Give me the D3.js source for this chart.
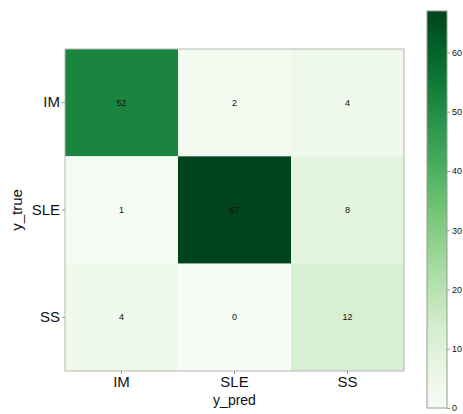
<!DOCTYPE html>
<html>
<head>
<meta charset="utf-8">
<script src="https://cdn.jsdelivr.net/npm/d3@7"></script>
<style>
  body { margin: 0; background: #fff; }
  svg { display: block; font-family: "Liberation Sans", Arial, sans-serif; }
</style>
</head>
<body>
<svg id="chart" width="463" height="414"></svg>
<script>
// Confusion matrix: rows = true class, columns = predicted class
const classes = ["IM", "SLE", "SS"];
const matrix = [
  [52, 2, 4],
  [1, 67, 8],
  [4, 0, 12]
];
const colorbarTicks = [0, 10, 20, 30, 40, 50, 60];
const colorMax = 67;

const svg = d3.select("#chart");
const plot = { left: 65, top: 49, width: 339, height: 322 };

const x = d3.scaleBand().domain(classes).range([plot.left, plot.left + plot.width]);
const y = d3.scaleBand().domain(classes).range([plot.top, plot.top + plot.height]);
const color = d3.scaleSequential(d3.interpolateGreens).domain([0, colorMax]);

const cells = [];
matrix.forEach((row, i) => row.forEach((v, j) => cells.push({ t: classes[i], p: classes[j], v })));

svg.append("g").selectAll("rect").data(cells).join("rect")
  .attr("x", d => x(d.p)).attr("y", d => y(d.t))
  .attr("width", x.bandwidth()).attr("height", y.bandwidth())
  .attr("fill", d => color(d.v));

svg.append("g").selectAll("text").data(cells).join("text")
  .attr("x", d => x(d.p) + x.bandwidth() / 2)
  .attr("y", d => y(d.t) + y.bandwidth() / 2)
  .attr("text-anchor", "middle").attr("dominant-baseline", "central")
  .attr("font-size", 9).attr("fill", "#111")
  .text(d => d.v);

// frame around the heatmap
svg.append("rect")
  .attr("x", plot.left).attr("y", plot.top)
  .attr("width", plot.width).attr("height", plot.height)
  .attr("fill", "none").attr("stroke", "#b5b5b5").attr("stroke-width", 1);

// axes
const xAxis = svg.append("g")
  .attr("transform", `translate(0,${plot.top + plot.height})`)
  .call(d3.axisBottom(x).tickSize(3).tickPadding(2));
const yAxis = svg.append("g")
  .attr("transform", `translate(${plot.left},0)`)
  .call(d3.axisLeft(y).tickSize(3).tickPadding(2));
[xAxis, yAxis].forEach(a => {
  a.select(".domain").remove();
  a.selectAll(".tick line").attr("stroke", "#999");
  a.selectAll(".tick text").attr("font-size", 15).attr("fill", "#111")
    .attr("font-family", "Liberation Sans, Arial, sans-serif");
});

svg.append("text")
  .attr("x", plot.left + plot.width / 2).attr("y", 405)
  .attr("text-anchor", "middle").attr("font-size", 14).attr("fill", "#111")
  .text("y_pred");
svg.append("text")
  .attr("transform", `translate(22,${plot.top + plot.height / 2}) rotate(-90)`)
  .attr("text-anchor", "middle").attr("font-size", 15).attr("fill", "#111")
  .text("y_true");

// colorbar
const cb = { left: 427, top: 11, width: 20, height: 397 };
const cbScale = d3.scaleLinear().domain([0, colorMax]).range([cb.top + cb.height, cb.top]);
const defs = svg.append("defs");
const grad = defs.append("linearGradient").attr("id", "cbgrad")
  .attr("x1", 0).attr("y1", 1).attr("x2", 0).attr("y2", 0);
d3.range(0, 1.0001, 0.05).forEach(t => {
  grad.append("stop").attr("offset", t).attr("stop-color", color(t * colorMax));
});
svg.append("rect")
  .attr("x", cb.left).attr("y", cb.top).attr("width", cb.width).attr("height", cb.height)
  .attr("fill", "url(#cbgrad)").attr("stroke", "#999").attr("stroke-width", 1);
const cbAxis = svg.append("g")
  .attr("transform", `translate(${cb.left + cb.width},0)`)
  .call(d3.axisRight(cbScale).tickValues(colorbarTicks).tickSize(3).tickPadding(2));
cbAxis.select(".domain").remove();
cbAxis.selectAll(".tick line").attr("stroke", "#999");
cbAxis.selectAll(".tick text").attr("font-size", 9).attr("fill", "#111")
  .attr("font-family", "Liberation Sans, Arial, sans-serif");
</script>
</body>
</html>
